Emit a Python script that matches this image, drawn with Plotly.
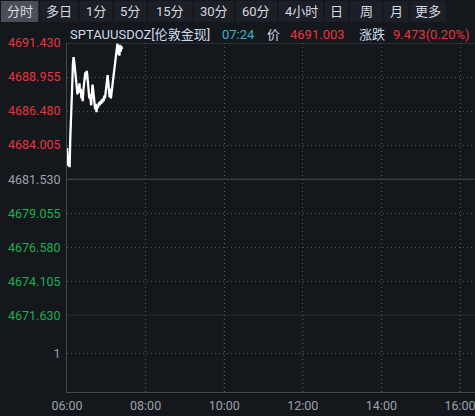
import pandas as pd
import plotly.graph_objects as go

# ---- data ----
start_time = "2024-01-02 06:00"
prices = [4683.8, 4683.2, 4682.5, 4682.9, 4682.4, 4684.5, 4686.5, 4687.6, 4688.4, 4689.9,
          4690.4, 4690.1, 4689.6, 4689.0, 4688.4, 4688.0, 4687.7, 4688.3, 4688.0, 4688.5,
          4687.8, 4688.1, 4687.4, 4687.6, 4687.2, 4688.0, 4688.6, 4689.0, 4689.3, 4688.8,
          4689.4, 4689.1, 4688.3, 4687.9, 4687.4, 4687.7, 4687.2, 4686.9, 4687.8, 4688.4,
          4688.0, 4687.6, 4687.2, 4686.6, 4687.0, 4686.4, 4686.9, 4686.7, 4686.9, 4687.1,
          4686.9, 4687.2, 4687.0, 4687.3, 4687.1, 4687.4, 4687.2, 4687.6, 4687.4, 4687.9,
          4688.3, 4688.9, 4689.1, 4688.6, 4688.0, 4687.5, 4688.1, 4687.4, 4687.8, 4688.2,
          4688.9, 4689.3, 4689.6, 4690.0, 4690.5, 4690.8, 4691.2, 4691.4, 4690.6, 4691.2,
          4690.5, 4691.3, 4690.8, 4691.2, 4691.0]
price_ticks = [4691.430, 4688.955, 4686.480, 4684.005, 4681.530,
               4679.055, 4676.580, 4674.105, 4671.630]
prev_close = 4681.530
x_tick_labels = ["06:00", "08:00", "10:00", "12:00", "14:00", "16:00"]
volume_ticks = [1]
toolbar_labels = ["分时", "多日", "1分", "5分", "15分", "30分", "60分", "4小时", "日", "周", "月", "更多"]
symbol = "SPTAUUSDOZ[伦敦金现]"
last_time = "07:24"
last_price = "4691.003"
change_text = "9.473(0.20%)"

# ---- styling ----
BG = "#14171c"
RED = "#f0323c"
GREEN = "#1fae4f"
GREY = "#9aa2ac"
GRID = "#50545b"
AXIS = "#45484e"
DOT = "1px,3px"
FONT = "Roboto, 'Noto Sans CJK SC', sans-serif"

W, H = 475, 416
ML, MR, MT, MB = 67, 0, 43, 24
PW, PH = W - ML - MR, H - MT - MB
split_px = 315.3
split = (H - MB - split_px) / PH


def px_x(px):
    return (px - ML) / PW


def px_y(py):
    return (H - MB - py) / PH


times = pd.date_range(start_time, periods=len(prices), freq="min")
day = start_time[:10]
tickvals_x = [pd.Timestamp(f"{day} {t}") for t in x_tick_labels]


def tick_color(v):
    if abs(v - prev_close) < 1e-6:
        return GREY
    return RED if v > prev_close else GREEN


price_ticktext = [f"<span style='color:{tick_color(v)}'>{v:.3f}</span>" for v in price_ticks]

fig = go.Figure()
fig.add_trace(go.Scatter(x=times, y=prices, mode="lines",
                         line=dict(color="#ffffff", width=2.3),
                         xaxis="x", yaxis="y", hoverinfo="skip"))
fig.add_trace(go.Scatter(x=[times[0]], y=[None], mode="lines",
                         xaxis="x", yaxis="y2", hoverinfo="skip"))

x_end = pd.Timestamp(f"{day} 06:00") + pd.Timedelta(hours=PW / 39.3)

fig.update_layout(
    width=W, height=H,
    margin=dict(l=ML, r=MR, t=MT, b=MB, pad=0),
    paper_bgcolor=BG, plot_bgcolor=BG,
    showlegend=False,
    font=dict(family=FONT, size=12.5, color=GREY),
    xaxis=dict(
        range=[pd.Timestamp(f"{day} 06:00"), x_end],
        tickvals=tickvals_x, ticktext=x_tick_labels,
        showgrid=True, gridcolor=GRID, griddash=DOT, gridwidth=1,
        showline=True, linecolor=AXIS, linewidth=1,
        anchor="y2", zeroline=False, ticks="",
        tickfont=dict(color=GREY, size=12.5),
        ticklabelstandoff=2, ticklabeloverflow="allow",
    ),
    yaxis=dict(
        domain=[split, 1],
        range=[price_ticks[-1], price_ticks[0]],
        tickvals=price_ticks, ticktext=price_ticktext,
        showgrid=True, gridcolor=GRID, griddash=DOT, gridwidth=1,
        showline=True, linecolor=AXIS, linewidth=1,
        zeroline=False, ticks="", ticklabelstandoff=3,
        tickfont=dict(size=12.5),
    ),
    yaxis2=dict(
        domain=[0, split],
        range=[0, 2],
        tickvals=volume_ticks, ticktext=[str(v) for v in volume_ticks],
        showgrid=True, gridcolor=GRID, griddash=DOT, gridwidth=1,
        showline=True, linecolor=AXIS, linewidth=1,
        zeroline=False, ticks="", ticklabelstandoff=3,
        tickfont=dict(size=12.5, color=GREY),
    ),
)

shapes = []
# solid reference lines: top border, previous close, panel separator
for yv in [price_ticks[0], prev_close, price_ticks[-1]]:
    shapes.append(dict(type="line", xref="paper", yref="y", x0=0, x1=1, y0=yv, y1=yv,
                       line=dict(color=AXIS, width=1)))
# vertical dotted gridlines through the volume panel
for tv in tickvals_x[1:]:
    shapes.append(dict(type="line", xref="x", yref="paper", x0=tv, x1=tv, y0=0, y1=split,
                       line=dict(color=GRID, width=1, dash=DOT), layer="below"))

# toolbar
edges = [0, 39.3, 78.7, 113.3, 147.3, 192.7, 234.7, 278, 324, 348.7, 383.3, 409.3, 446.7]
annotations = []
for i, lab in enumerate(toolbar_labels):
    x0, x1 = edges[i], edges[i + 1]
    fill = "#4b4e57" if i == 0 else "#1c1f25"
    shapes.append(dict(type="rect", xref="paper", yref="paper",
                       x0=px_x(x0 + 1), x1=px_x(x1 - 1), y0=px_y(22), y1=px_y(1),
                       fillcolor=fill, line=dict(width=0), layer="above"))
    annotations.append(dict(xref="paper", yref="paper", x=px_x((x0 + x1) / 2), y=px_y(12),
                            text=lab, showarrow=False, xanchor="center", yanchor="middle",
                            font=dict(family=FONT, size=13, color="#d6dae0")))

# header line
header = [
    (68, symbol, "#cddcec"),
    (220, last_time, "#35b6c8"),
    (265, "价", "#cddcec"),
    (288, last_price, RED),
    (357, "涨跌", "#cddcec"),
    (391, change_text, RED),
]
for px, txt, col in header:
    annotations.append(dict(xref="paper", yref="paper", x=px_x(px), y=px_y(34),
                            text=txt, showarrow=False, xanchor="left", yanchor="middle",
                            font=dict(family=FONT, size=13, color=col)))

fig.update_layout(shapes=shapes, annotations=annotations)
fig.write_html(
    "out.html",
    config={"displayModeBar": False},
    post_script="document.body.style.margin='0';document.body.style.padding='0';"
                "document.body.style.background='" + BG + "';document.body.style.overflow='hidden';",
)
